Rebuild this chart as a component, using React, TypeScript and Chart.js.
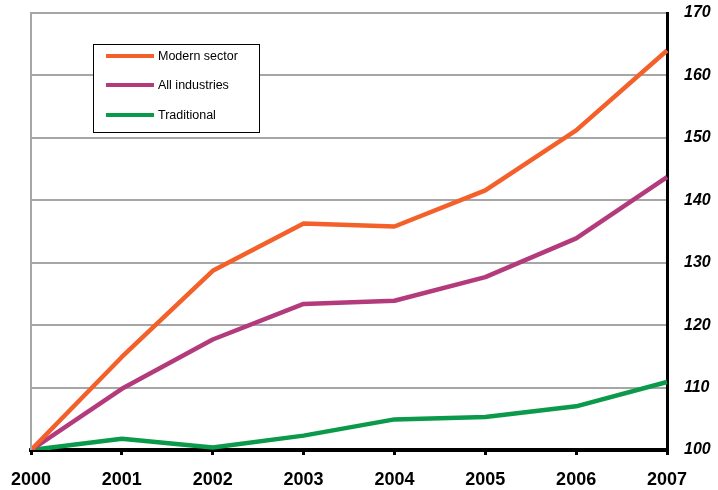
import React, { useEffect, useRef } from "react";
import { Chart, registerables } from "chart.js";

Chart.register(...registerables);

const years = ["2000", "2001", "2002", "2003", "2004", "2005", "2006", "2007"];
const modernSector = [100, 114.9, 128.7, 136.3, 135.8, 141.6, 151.2, 164.0];
const allIndustries = [100, 109.8, 117.7, 123.4, 123.9, 127.7, 133.9, 143.7];
const traditional = [100, 101.8, 100.4, 102.3, 104.9, 105.3, 107.0, 110.9];
const seriesNames = ["Modern sector", "All industries", "Traditional"];
const seriesColors = ["#F4602A", "#B33A7B", "#0B9A4B"];
const yMin = 100;
const yMax = 170;
const yStep = 10;

const frameAndLegend = {
  id: "frameAndLegend",
  afterDraw(chart: any) {
    const { ctx, chartArea } = chart;
    ctx.save();
    // grey left border
    ctx.strokeStyle = "#A6A6A6";
    ctx.lineWidth = 2;
    ctx.beginPath();
    ctx.moveTo(chartArea.left, chartArea.top - 1);
    ctx.lineTo(chartArea.left, chartArea.bottom);
    ctx.stroke();

    // x tick labels
    const xs = chart.scales.x;
    ctx.fillStyle = "#000000";
    ctx.font = "bold 18px 'Liberation Sans', Arial, sans-serif";
    ctx.textAlign = "center";
    ctx.textBaseline = "alphabetic";
    xs.ticks.forEach((t: any, i: number) => {
      const px = xs.getPixelForTick(i);
      const label = String(chart.data.labels[i]);
      ctx.fillText(label, px, chartArea.bottom + 35);
    });

    // legend box
    const bx = chartArea.left + 62;
    const by = chartArea.top + 31;
    const bw = 166;
    const bh = 88;
    ctx.fillStyle = "#FFFFFF";
    ctx.fillRect(bx, by, bw, bh);
    ctx.strokeStyle = "#000000";
    ctx.lineWidth = 1;
    ctx.strokeRect(bx + 0.5, by + 0.5, bw, bh);
    const rows = [12, 41, 71];
    ctx.font = "12.5px 'Liberation Sans', Arial, sans-serif";
    ctx.textBaseline = "middle";
    ctx.textAlign = "left";
    chart.data.datasets.forEach((ds: any, i: number) => {
      const y = by + rows[i];
      ctx.strokeStyle = ds.borderColor;
      ctx.lineWidth = 4;
      ctx.beginPath();
      ctx.moveTo(bx + 13, y);
      ctx.lineTo(bx + 61, y);
      ctx.stroke();
      ctx.fillStyle = "#000000";
      ctx.fillText(ds.label, bx + 65, y + 1);
    });
    ctx.restore();
  },
};

export default function App() {
  const canvasRef = useRef<HTMLCanvasElement | null>(null);

  useEffect(() => {
    if (!canvasRef.current) return;
    const data = [modernSector, allIndustries, traditional];
    const chart = new Chart(canvasRef.current, {
      type: "line",
      data: {
        labels: years,
        datasets: data.map((d, i) => ({
          label: seriesNames[i],
          data: d,
          borderColor: seriesColors[i],
          backgroundColor: seriesColors[i],
          borderWidth: 4.5,
          pointRadius: 0,
          tension: 0,
          borderJoinStyle: "round" as const,
        })),
      },
      options: {
        responsive: false,
        animation: false,
        layout: { padding: { left: 31, top: 13, right: 0, bottom: 0 } },
        plugins: {
          legend: { display: false },
          tooltip: { enabled: false },
        },
        scales: {
          x: {
            type: "category",
            offset: false,
            border: { color: "#000000", width: 4 },
            grid: {
              drawOnChartArea: false,
              drawTicks: true,
              tickLength: 5,
              color: "#000000",
              lineWidth: 3,
            },
            ticks: { display: false },
            afterFit(scale: any) {
              scale.height = 40;
              scale.paddingLeft = 0;
              scale.paddingRight = 0;
            },
          },
          y: {
            position: "right",
            min: yMin,
            max: yMax,
            border: { color: "#000000", width: 3 },
            grid: { color: "#A6A6A6", lineWidth: 2, drawTicks: false },
            ticks: {
              stepSize: yStep,
              color: "#000000",
              padding: 17,
              font: { family: "'Liberation Sans', Arial, sans-serif", size: 16, weight: "bold", style: "italic" },
            },
            afterFit(scale: any) {
              scale.width = 51;
              scale.paddingTop = 0;
              scale.paddingBottom = 0;
            },
          },
        },
      },
      plugins: [frameAndLegend],
    });
    return () => chart.destroy();
  }, []);

  return (
    <div style={{ position: "absolute", left: 0, top: 0, width: 718, height: 490, background: "#fff" }}>
      <canvas ref={canvasRef} width={718} height={490} />
    </div>
  );
}
